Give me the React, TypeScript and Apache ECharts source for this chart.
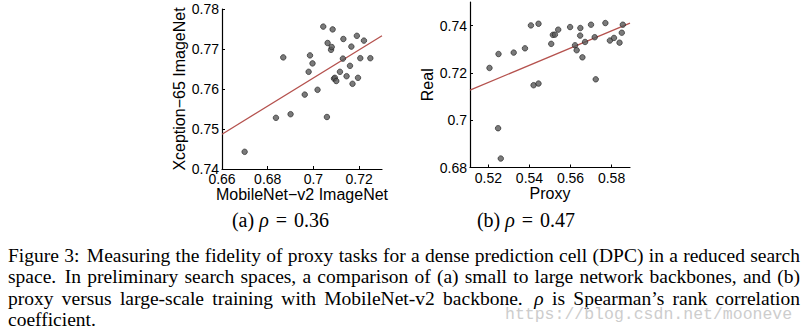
import React, { useEffect, useRef } from "react";
import * as echarts from "echarts";

// ---------- Data: (a) MobileNet-v2 ImageNet vs Xception-65 ImageNet ----------
const A_X = [0.6699, 0.6836, 0.69, 0.6868, 0.6962, 0.6979, 0.6985, 0.6996, 0.7018, 0.7059,
  0.7043, 0.7084, 0.7062, 0.7077, 0.708, 0.709, 0.7094, 0.71, 0.7116, 0.7131,
  0.7129, 0.7145, 0.716, 0.7166, 0.7171, 0.719, 0.7195, 0.7205, 0.7221, 0.7249];
const A_Y = [0.7443, 0.7528, 0.7537, 0.7679, 0.7586, 0.7643, 0.7684, 0.7664, 0.7598, 0.753,
  0.7756, 0.7749, 0.7715, 0.7698, 0.7705, 0.7626, 0.7628, 0.762, 0.7643, 0.7725,
  0.7676, 0.7632, 0.7658, 0.7706, 0.7613, 0.7733, 0.7628, 0.7677, 0.7721, 0.7677];
const A_FIT_X = [0.66, 0.73];
const A_FIT_Y = [0.7487, 0.7733];
const A_XTICKS = [0.66, 0.68, 0.7, 0.72];
const A_YTICKS = [0.74, 0.75, 0.76, 0.77, 0.78];

// ---------- Data: (b) Proxy vs Real ----------
const B_X = [0.5205, 0.5249, 0.5247, 0.526, 0.5323, 0.5378, 0.5407, 0.5444, 0.542, 0.5444,
  0.5506, 0.5514, 0.5524, 0.554, 0.5598, 0.5622, 0.563, 0.5648, 0.5647, 0.5658,
  0.5671, 0.57, 0.5718, 0.5723, 0.577, 0.5792, 0.5812, 0.5839, 0.585, 0.5855];
const B_Y = [0.7221, 0.728, 0.6966, 0.6838, 0.7286, 0.7304, 0.7401, 0.7408, 0.7148, 0.7155,
  0.7323, 0.7361, 0.7362, 0.7383, 0.7394, 0.7317, 0.7296, 0.739, 0.7358, 0.7266,
  0.7331, 0.7404, 0.7351, 0.7173, 0.7411, 0.7337, 0.7348, 0.7328, 0.737, 0.7404];
const B_FIT_X = [0.511, 0.589];
const B_FIT_Y = [0.7127, 0.7411];
const B_XTICKS = [0.52, 0.54, 0.56, 0.58];
const B_YTICKS = [0.68, 0.7, 0.72, 0.74];

// ---------- Text ----------
const A_XNAME = "MobileNet\u2212v2 ImageNet";
const A_YNAME = "Xception\u221265 ImageNet";
const B_XNAME = "Proxy";
const B_YNAME = "Real";
const SUB_A = ["(a) ", "\u03c1", " = ", "0.36"];
const SUB_B = ["(b) ", "\u03c1", " = ", "0.47"];
const CAPTION_LINES = [
  "Figure 3: Measuring the fidelity of proxy tasks for a dense prediction cell (DPC) in a reduced search",
  "space. In preliminary search spaces, a comparison of (a) small to large network backbones, and (b)",
  "proxy versus large-scale training with MobileNet-v2 backbone. \u03c1 is Spearman\u2019s rank correlation",
  "coefficient.",
];
const WATERMARK = "https://blog.csdn.net/mooneve";

const SANS = '"Liberation Sans", Arial, Helvetica, sans-serif';
const SERIF = '"Liberation Serif", "Times New Roman", serif';
const MONO = '"Liberation Mono", "DejaVu Sans Mono", monospace';

const fmt = (v: number) => String(Number(v.toFixed(3)));

function makeAxis(gridIndex: number, min: number, max: number, ticks: number[], name: string, nameGap: number) {
  return {
    type: "value",
    gridIndex,
    min,
    max,
    name,
    nameLocation: "middle",
    nameGap,
    nameTextStyle: { fontFamily: SANS, fontSize: 16, color: "#000" },
    axisLine: { show: true, onZero: false, lineStyle: { color: "#000", width: 1.2 } },
    axisTick: { show: true, inside: true, length: 3, customValues: ticks, lineStyle: { color: "#000", width: 1 } },
    axisLabel: { customValues: ticks, fontFamily: SANS, fontSize: 14, color: "#000", margin: 3, formatter: (v: number) => fmt(v) },
    splitLine: { show: false },
  };
}

let measureCtx: CanvasRenderingContext2D | null = null;
function textWidth(text: string, font: string) {
  if (!measureCtx) measureCtx = document.createElement("canvas").getContext("2d");
  measureCtx!.font = font;
  return measureCtx!.measureText(text).width;
}

function textEl(text: string, x: number, y: number, font: string, fill = "#000") {
  return {
    type: "text",
    x,
    y,
    silent: true,
    style: { text, font, fill, textAlign: "left", textVerticalAlign: "middle" },
  };
}

function subcaption(parts: string[], cx: number, cy: number) {
  const size = 20;
  const fonts = parts.map((p, i) => (i === 1 ? `italic ${size}px ${SERIF}` : `${size}px ${SERIF}`));
  const widths = parts.map((p, i) => textWidth(p, fonts[i]) + (i === 1 || i === 2 ? 2 : 0));
  const total = widths.reduce((a, b) => a + b, 0);
  let x = cx - total / 2;
  const els: any[] = [];
  parts.forEach((p, i) => {
    els.push(textEl(p, x, cy, fonts[i]));
    x += widths[i];
  });
  return els;
}

function captionEls() {
  const size = 19.5;
  const left = 8;
  const right = 800;
  const centers = [255, 276.5, 298, 319.5];
  const els: any[] = [];
  CAPTION_LINES.forEach((line, li) => {
    const words = line.split(" ");
    const fonts = words.map((w) => (w === "\u03c1" ? `italic ${size}px ${SERIF}` : `${size}px ${SERIF}`));
    const widths = words.map((w, i) => textWidth(w, fonts[i]));
    const justify = li < CAPTION_LINES.length - 1;
    const weights = words.slice(0, -1).map((w) => (/[.:]$/.test(w) ? 1.4 : 1));
    const sumW = widths.reduce((a, b) => a + b, 0);
    const sumWeights = weights.reduce((a, b) => a + b, 0);
    const space = textWidth(" ", `${size}px ${SERIF}`);
    const unit = justify ? (right - left - sumW) / sumWeights : space;
    let x = left;
    words.forEach((w, i) => {
      els.push(textEl(w, x, centers[li], fonts[i]));
      x += widths[i] + (i < weights.length ? unit * weights[i] : 0);
    });
  });
  return els;
}

export default function App() {
  const ref = useRef<HTMLDivElement>(null);
  useEffect(() => {
    if (!ref.current) return;
    const chart = echarts.init(ref.current, undefined, { renderer: "svg" });
    const scatterStyle = { color: "#595959", borderColor: "#1e1e1e", borderWidth: 0.8 };
    const fitStyle = { color: "#b5524e", width: 1.3 };
    const option: any = {
      animation: false,
      backgroundColor: "#fff",
      grid: [
        { left: 222, top: 9, width: 160, height: 160, containLabel: false },
        { left: 470, top: 2, width: 160, height: 165.5, containLabel: false },
      ],
      xAxis: [
        makeAxis(0, 0.66, 0.73, A_XTICKS, A_XNAME, 13),
        makeAxis(1, 0.511, 0.589, B_XTICKS, B_XNAME, 14),
      ],
      yAxis: [
        makeAxis(0, 0.74, 0.78, A_YTICKS, A_YNAME, 30),
        makeAxis(1, 0.68, 0.75, B_YTICKS, B_YNAME, 35),
      ],
      series: [
        {
          type: "line",
          xAxisIndex: 0,
          yAxisIndex: 0,
          data: A_FIT_X.map((x, i) => [x, A_FIT_Y[i]]),
          symbol: "none",
          lineStyle: fitStyle,
          z: 1,
        },
        {
          type: "scatter",
          xAxisIndex: 0,
          yAxisIndex: 0,
          data: A_X.map((x, i) => [x, A_Y[i]]),
          symbolSize: 5.5,
          itemStyle: scatterStyle,
          z: 2,
        },
        {
          type: "line",
          xAxisIndex: 1,
          yAxisIndex: 1,
          data: B_FIT_X.map((x, i) => [x, B_FIT_Y[i]]),
          symbol: "none",
          lineStyle: fitStyle,
          z: 1,
        },
        {
          type: "scatter",
          xAxisIndex: 1,
          yAxisIndex: 1,
          data: B_X.map((x, i) => [x, B_Y[i]]),
          symbolSize: 5.5,
          itemStyle: scatterStyle,
          z: 2,
        },
      ],
      graphic: [
        ...subcaption(SUB_A, 280.5, 220),
        ...subcaption(SUB_B, 526, 220),
        ...captionEls(),
        {
          type: "text",
          x: 505,
          y: 314,
          silent: true,
          z: 10,
          style: { text: WATERMARK, font: `16.5px ${MONO}`, fill: "#cdcdcd", textAlign: "left", textVerticalAlign: "middle" },
        },
      ],
    };
    chart.setOption(option);
    return () => chart.dispose();
  }, []);
  return (
    <div
      ref={ref}
      style={{ position: "absolute", left: 0, top: 0, width: 805, height: 333, background: "#fff" }}
    />
  );
}
